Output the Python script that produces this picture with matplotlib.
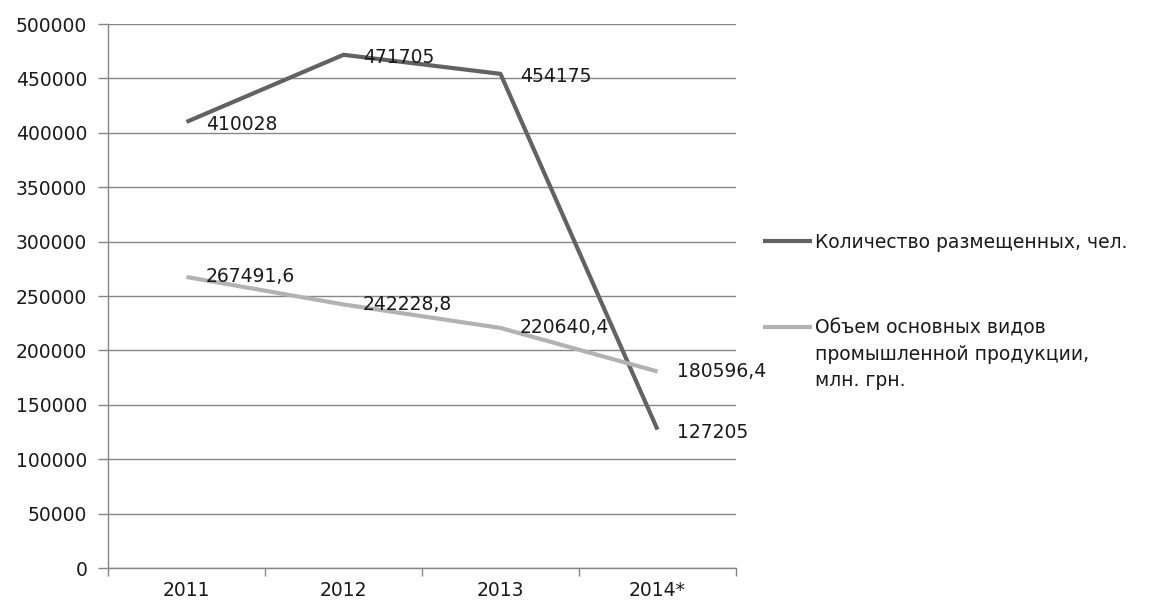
import matplotlib
matplotlib.use('Agg')
import matplotlib.pyplot as plt
from matplotlib.lines import Line2D
import numpy as np

#---- data ----#
years = ['2011', '2012', '2013', '2014*']
placed = [410028, 471705, 454175, 127205]
placed_labels = ['410028', '471705', '454175', '127205']
output = [267491.6, 242228.8, 220640.4, 180596.4]
output_labels = ['267491,6', '242228,8', '220640,4', '180596,4']
series_names = ['Количество размещенных, чел.',
                'Объем основных видов\nпромышленной продукции,\nмлн. грн.']
yticks = [0, 50000, 100000, 150000, 200000, 250000, 300000, 350000, 400000, 450000, 500000]

plt.rcParams['font.family'] = ['DejaVu Sans']
dark = '#626262'
light = '#b2b2b2'
grid_c = '#868686'
txt_c = '#1a1a1a'
fs = 13.5

fig = plt.figure(figsize=(11.52, 6.01), dpi=100)
W, H = 1152, 601
ax = fig.add_axes([108/W, 1-568/H, (736-108)/W, (568-24)/H])

x = np.arange(len(years))
l1, = ax.plot(x, placed, color=dark, lw=3.0, solid_capstyle='butt')
l2, = ax.plot(x, output, color=light, lw=3.0, solid_capstyle='butt')

for xi, v, t in zip(x, placed, placed_labels):
    ax.annotate(t, (xi, v), xytext=(14, -2), textcoords='offset points',
                ha='left', va='center', fontsize=fs, color=txt_c)
for xi, v, t in zip(x, output, output_labels):
    ax.annotate(t, (xi, v), xytext=(14, 0), textcoords='offset points',
                ha='left', va='center', fontsize=fs, color=txt_c)

#---- axes ----#
ax.set_xlim(-0.5, len(years) - 0.5)
ax.set_ylim(0, 500000)
ax.set_yticks(yticks)
ax.set_yticklabels([str(v) for v in yticks], fontsize=fs, color=txt_c)
ax.yaxis.grid(True, color=grid_c, lw=1.0)
ax.set_axisbelow(True)

ax.set_xticks(x)
ax.set_xticklabels(years, fontsize=fs, color=txt_c)
ax.tick_params(axis='x', which='major', length=0, pad=9)
ax.set_xticks(np.arange(len(years) + 1) - 0.5, minor=True)
ax.tick_params(axis='x', which='minor', length=6, color=grid_c, width=1.0, direction='out')
ax.tick_params(axis='y', length=7, color=grid_c, width=1.0, pad=8)

for s in ['top', 'right']:
    ax.spines[s].set_visible(False)
for s in ['left', 'bottom']:
    ax.spines[s].set_color(grid_c)
    ax.spines[s].set_linewidth(1.0)

#---- legend (drawn by hand, handle aligned with first text line) ----#
for ypix, col, name in [(241, dark, series_names[0]), (327, light, series_names[1])]:
    yf = 1 - ypix / H
    fig.add_artist(Line2D([763/W, 812/W], [yf, yf], color=col, lw=3.0,
                          solid_capstyle='butt', transform=fig.transFigure))
    fig.text(815/W, 1 - (ypix - 8)/H, name, ha='left', va='top',
             fontsize=fs, color=txt_c, linespacing=1.45)

fig.savefig('out.png', dpi=100)
